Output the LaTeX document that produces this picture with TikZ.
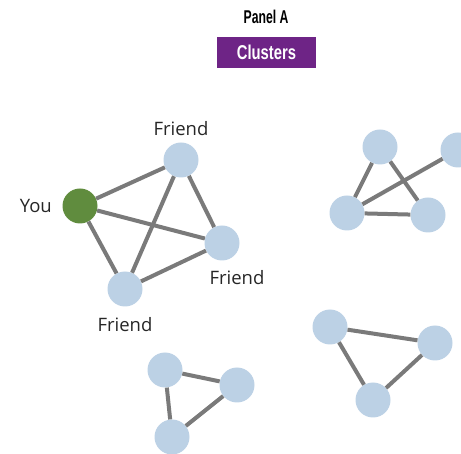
\documentclass[tikz,border=0pt]{standalone}
\usepackage{fontspec}
\setmainfont{Open Sans}
\newfontfamily\headfont[FakeStretch=0.66]{Liberation Sans}
\newfontfamily\tagfont[FakeStretch=0.74]{Liberation Sans}
\usetikzlibrary{positioning}
\definecolor{nodeblue}{RGB}{188,209,229}
\definecolor{yougreen}{RGB}{96,140,62}
\definecolor{linkgray}{RGB}{122,122,122}
\definecolor{clusterpurple}{RGB}{110,36,134}
\tikzset{
  person/.style={circle, fill=nodeblue, minimum size=35pt, inner sep=0pt},
  link/.style={draw=linkgray, line width=4pt},
  namelabel/.style={font=\fontsize{18.5}{22}\selectfont, text=black!85}
}

\begin{document}
\begin{tikzpicture}[x=1pt, y=-1pt]
    \useasboundingbox (0,0) rectangle (461,454);
    % Title
    \node[font=\headfont\bfseries\fontsize{18.5}{20}\selectfont] (panel) at (266,17) {Panel A};
    \node[fill=clusterpurple, text=white, minimum width=99pt, minimum height=31pt, inner sep=0pt, font=\tagfont\bfseries\fontsize{20}{22}\selectfont] (clusters) at (266.5,52.5) {Clusters};

    % Your cluster
    \node[person, fill=yougreen] (you) at (80,206) {};
    \node[person] (ftop) at (181,160) {};
    \node[person] (fright) at (222,243) {};
    \node[person] (fbottom) at (125,289) {};

    % Labels
    \node[namelabel, left=7pt of you] (youlabel) {You};
    \node[namelabel, above=3pt of ftop] (ftoplabel) {Friend};
    \node[namelabel, below=6pt of fright, xshift=15pt] (frightlabel) {Friend};
    \node[namelabel, below=7pt of fbottom] (fbottomlabel) {Friend};

    % Top right cluster
    \node[person] (ra) at (380,147) {};
    \node[person] (rb) at (458,150) {};
    \node[person] (rc) at (347,213) {};
    \node[person] (rd) at (428,215) {};

    % Bottom left cluster
    \node[person] (la) at (165,370) {};
    \node[person] (lb) at (237,385) {};
    \node[person] (lc) at (172,437) {};

    % Bottom right cluster
    \node[person] (ma) at (330,327) {};
    \node[person] (mb) at (435,343) {};
    \node[person] (mc) at (373,400) {};

    % Links
    \draw[link] (you) -- (ftop);
    \draw[link] (you) -- (fright);
    \draw[link] (you) -- (fbottom);
    \draw[link] (ftop) -- (fright);
    \draw[link] (ftop) -- (fbottom);
    \draw[link] (fbottom) -- (fright);
    \draw[link] (ra) -- (rc);
    \draw[link] (ra) -- (rd);
    \draw[link] (rc) -- (rd);
    \draw[link] (rc) -- (rb);
    \draw[link] (la) -- (lb);
    \draw[link] (la) -- (lc);
    \draw[link] (lb) -- (lc);
    \draw[link] (ma) -- (mb);
    \draw[link] (ma) -- (mc);
    \draw[link] (mb) -- (mc);
\end{tikzpicture}
\end{document}
